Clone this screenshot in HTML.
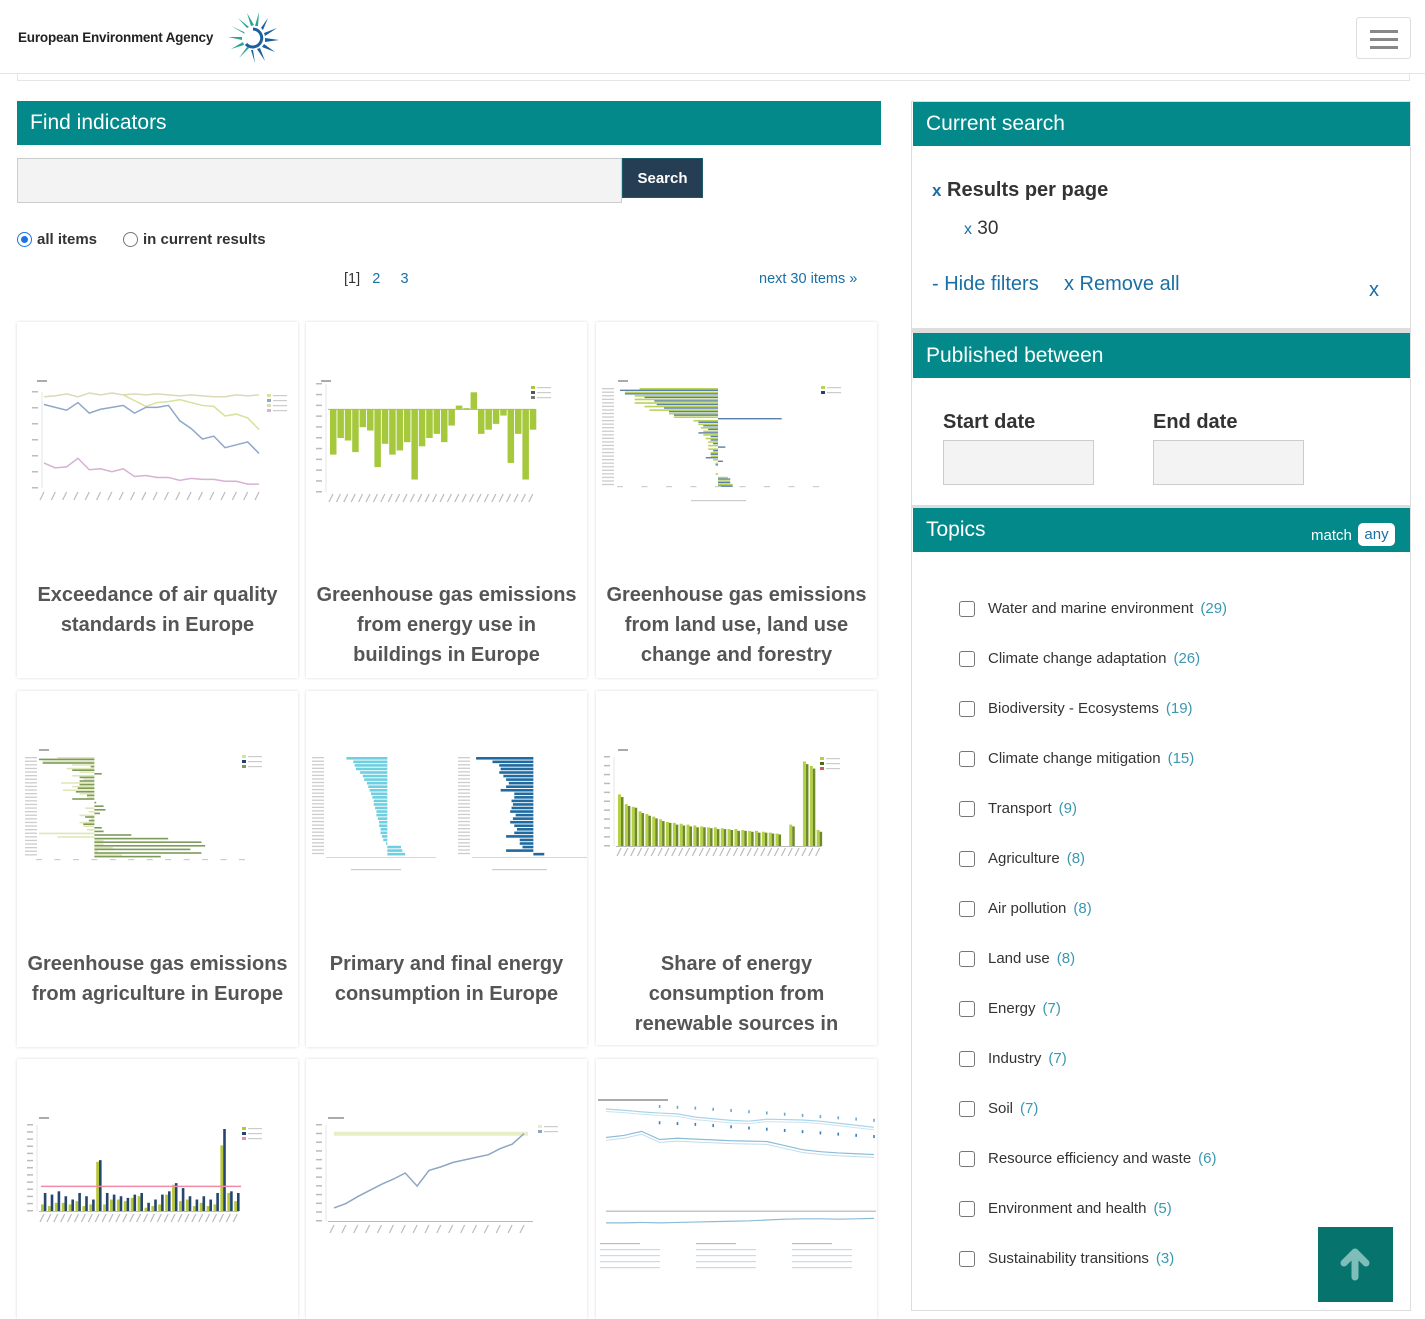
<!DOCTYPE html>
<html><head><meta charset="utf-8">
<style>
*{box-sizing:border-box;margin:0;padding:0}
body{width:1425px;height:1305px;overflow:hidden;background:#fff;font-family:"Liberation Sans",sans-serif;position:relative;color:#333}
.abs{position:absolute}
.teal{background:#03898a;color:#fff;font-size:21px;padding-left:13px;display:flex;align-items:center}
.card{position:absolute;background:#fff;box-shadow:0 0 3px rgba(0,0,0,.15);overflow:hidden}
.card .t{position:absolute;left:0;right:0;top:258px;text-align:center;font-weight:bold;font-size:20px;line-height:30px;color:#555;padding:0 6px}
.card svg{position:absolute;left:0;top:0}
.topic{position:absolute;left:959px;font-size:15px;color:#333;display:flex;align-items:center}
.cb{width:16px;height:16px;border:1.5px solid #777;border-radius:3px;margin-right:13px;background:#fff}
.cnt{color:#3a98b0;margin-left:7px}
a{color:#1a6fa5;text-decoration:none}
</style></head><body>
<div class="abs" style="left:0;top:0;width:1425px;height:74px;border-bottom:1px solid #e6e6e6"></div>
<div class="abs" style="left:17px;top:74px;width:1393px;height:7px;border:1px solid #e6e6e6;border-top:none"></div>
<div class="abs" style="left:18px;top:30px;font-size:13.5px;font-weight:bold;color:#222;letter-spacing:-0.2px">European Environment Agency</div>
<svg class="abs" style="left:224px;top:12px" width="56" height="52" viewBox="0 0 56 52">
<g transform="translate(29,26)">
<g fill="#2ba58f"><path d="M-2,-12 L-6,-25 L1,-13Z"/><path d="M2,-12 L6,-26 L5,-12Z"/><path d="M-6,-10 L-15,-20 L-4,-11Z"/><path d="M-9,-6 L-22,-12 L-8,-4Z"/><path d="M-11,-1 L-25,-1 L-11,2Z"/><path d="M-10,4 L-22,11 L-9,7Z"/><path d="M-6,9 L-14,20 L-4,10Z"/></g>
<g fill="#1a5fa0"><path d="M8,-10 L15,-20 L10,-8Z"/><path d="M11,-5 L24,-10 L12,-2Z"/><path d="M12,0 L26,2 L12,4Z"/><path d="M11,6 L22,14 L9,9Z"/><path d="M7,10 L12,23 L4,11Z"/><path d="M0,12 L2,25 L-2,12Z"/></g>
<path d="M0,-9 A9,9 0 1,1 -7,6" fill="none" stroke="#1a5fa0" stroke-width="3"/>
</g></svg>
<div class="abs" style="left:1356px;top:17px;width:55px;height:42px;border:1px solid #ddd;border-radius:3px">
<div style="position:absolute;left:13px;top:12px;width:28px;height:3px;background:#888"></div>
<div style="position:absolute;left:13px;top:20px;width:28px;height:3px;background:#888"></div>
<div style="position:absolute;left:13px;top:28px;width:28px;height:3px;background:#888"></div></div>

<div class="abs teal" style="left:17px;top:101px;width:864px;height:44px">Find indicators</div>
<div class="abs" style="left:17px;top:158px;width:605px;height:45px;background:#f3f3f3;border:1px solid #ccc"></div>
<div class="abs" style="left:622px;top:158px;width:81px;height:40px;background:#253e53;color:#fff;font-weight:bold;font-size:15px;display:flex;align-items:center;justify-content:center;border:1px solid #1c5c6a">Search</div>
<div class="abs" style="left:17px;top:231px;font-size:15px;font-weight:bold;display:flex;align-items:center"><span style="width:15px;height:15px;border-radius:50%;border:1.5px solid #1a73e8;display:inline-block;margin-right:5px;position:relative"><span style="position:absolute;left:2.5px;top:2.5px;width:7px;height:7px;border-radius:50%;background:#1a73e8"></span></span>all items</div>
<div class="abs" style="left:123px;top:231px;font-size:15px;font-weight:bold;display:flex;align-items:center"><span style="width:15px;height:15px;border-radius:50%;border:1px solid #777;display:inline-block;margin-right:5px"></span>in current results</div>
<div class="abs" style="left:344px;top:271px;font-size:14.5px;color:#333">[1]&nbsp;&nbsp; <a>2</a>&nbsp;&nbsp;&nbsp;&nbsp; <a>3</a></div>
<a class="abs" style="left:759px;top:271px;font-size:14.5px">next 30 items »</a>

<div class="card" style="left:17px;top:322px;width:281px;height:356px"><svg id="c1" width="281" height="250"></svg><div class="t">Exceedance of air quality standards in Europe</div></div>
<div class="card" style="left:306px;top:322px;width:281px;height:356px"><svg id="c2" width="281" height="250"></svg><div class="t">Greenhouse gas emissions from energy use in buildings in Europe</div></div>
<div class="card" style="left:596px;top:322px;width:281px;height:356px"><svg id="c3" width="281" height="250"></svg><div class="t">Greenhouse gas emissions from land use, land use change and forestry</div></div>
<div class="card" style="left:17px;top:691px;width:281px;height:356px"><svg id="c4" width="281" height="250"></svg><div class="t">Greenhouse gas emissions from agriculture in Europe</div></div>
<div class="card" style="left:306px;top:691px;width:281px;height:356px"><svg id="c5" width="281" height="250"></svg><div class="t">Primary and final energy consumption in Europe</div></div>
<div class="card" style="left:596px;top:691px;width:281px;height:354px"><svg id="c6" width="281" height="250"></svg><div class="t">Share of energy consumption from renewable sources in Europe</div></div>
<div class="card" style="left:17px;top:1059px;width:281px;height:260px"><svg id="c7" width="281" height="250"></svg></div>
<div class="card" style="left:306px;top:1059px;width:281px;height:260px"><svg id="c8" width="281" height="250"></svg></div>
<div class="card" style="left:596px;top:1059px;width:281px;height:260px"><svg id="c9" width="281" height="250"></svg></div>

<div class="abs" style="left:911px;top:101px;width:500px;height:1210px;border:1px solid #ddd"></div>
<div class="abs teal" style="left:913px;top:102px;width:497px;height:44px">Current search</div>
<div class="abs" style="left:932px;top:179px;font-size:20px;font-weight:bold;color:#333"><a style="font-size:17px">x</a> Results per page</div>
<div class="abs" style="left:964px;top:218px;font-size:19px"><a style="font-size:16px">x</a> 30</div>
<a class="abs" style="left:932px;top:273px;font-size:20px">- Hide filters</a>
<a class="abs" style="left:1064px;top:273px;font-size:20px">x Remove all</a>
<a class="abs" style="left:1369px;top:279px;font-size:20px">x</a>
<div class="abs" style="left:912px;top:328px;width:498px;height:5px;background:#ddd"></div>
<div class="abs teal" style="left:913px;top:333px;width:497px;height:45px">Published between</div>
<div class="abs" style="left:943px;top:411px;font-size:20px;font-weight:bold">Start date</div>
<div class="abs" style="left:1153px;top:411px;font-size:20px;font-weight:bold">End date</div>
<div class="abs" style="left:943px;top:440px;width:151px;height:45px;background:#f3f3f3;border:1px solid #ccc"></div>
<div class="abs" style="left:1153px;top:440px;width:151px;height:45px;background:#f3f3f3;border:1px solid #ccc"></div>
<div class="abs" style="left:912px;top:505px;width:498px;height:3px;background:#ddd"></div>
<div class="abs teal" style="left:913px;top:508px;width:497px;height:44px">Topics</div>
<div class="abs" style="left:1311px;top:527px;font-size:15px;color:#fff">match</div>
<div class="abs" style="left:1358px;top:523px;width:37px;height:23px;background:#fff;border-radius:5px;color:#1a6fa5;font-size:15px;text-align:center;line-height:23px">any</div>
<div id="topics"></div>
<div class="abs" style="left:1318px;top:1227px;width:75px;height:75px;background:#06736c">
<svg width="75" height="75"><path d="M37,50 V26 M26,36 L37,25 L48,36" stroke="#7fbdbb" stroke-width="7" fill="none" stroke-linecap="round" stroke-linejoin="round"/></svg></div>

<script>
// ---- chart data ----
const c1Years=["2000","2001","2002","2003","2004","2005","2006","2007","2008","2009","2010","2011","2012","2013","2014","2015","2016","2017","2018","2019"];
const c1S1=[95,96,98,95,99,97,99,97,98,97,98,97,96,97,96,95,95,97,96,97];
const c1S2=[null,null,null,null,null,null,null,97,91,85,89,90,92,89,86,85,75,77,73,61];
const c1S3=[87,84,81,89,78,82,84,86,78,84,84,86,70,62,51,54,42,45,48,36];
const c1S4=[26,21,22,31,19,20,17,20,12,13,11,11,8,10,9,9,7,7,4,4];
const c2Vals=[-55,-35,-38,-52,-22,-26,-70,-42,-55,-50,-40,-85,-45,-35,-30,-40,-20,4,1,20,-30,-25,-18,-8,-65,-30,-85,-25];
const c3Green=[-32,-38,-34,-34,-34,-30,-28,-20,-18,-10,-8,-7,-6,-6,-5,-4,-4,-4,-3,-3,-2,-1,0,0,-1,4,5,6];
const c3Blue=[-40,-38,-30,-26,-25,-22,-20,-18,26,-8,-6,-4,-8,-3,-3,-2,3,-2,-3,-5,2,-1,0,0,0,5,5,6];
const c4Light=[-20,-28,-12,-15,-8,-12,-6,-18,-12,-17,-8,-4,0,0,-5,-3,-8,-2,-8,-6,-4,-30,-20,5,5,10,2,15];
const c4Dark=[-30,-28,-2,-12,4,-8,-8,-8,-9,-10,-4,-12,1,5,6,3,-5,-3,-6,4,5,20,40,58,60,52,58,36];
const c5P1=[-30,-25,-24,-23,-20,-18,-17,-15,-14,-13,-12,-11,-10,-10,-9,-8,-8,-7,-6,-6,-5,-5,-4,-3,-1,20,22,26];
const c5P2=[-42,-30,-25,-24,-25,-22,-20,-18,-20,-24,-14,-14,-16,-15,-16,-17,-13,-15,-17,-14,-12,-14,-20,-10,-10,-8,-20,8];
const c6A=[58,47,44,39,36,33,30,27,26,25,24,23,22,21,21,20,19,19,18,17,17,16,15,14,0,24,0,95,90,18];
const c6B=[55,45,43,37,34,31,28,26,24,23,22,21,21,20,19,19,18,17,17,16,15,15,14,13,0,22,0,92,87,16];
const c7Dark=[22,20,24,18,14,22,18,14,62,22,20,18,16,20,22,10,14,20,24,34,28,18,14,18,14,22,100,24,22];
const c7Green=[8,6,10,10,8,12,6,8,60,8,14,14,12,16,18,4,6,8,20,32,12,14,6,10,6,8,80,22,12];
const c7Target=30;
const c8Vals=[15,20,28,35,42,48,55,40,58,62,67,70,73,76,83,88,100];
const c8Target=100;
const c9A=[2500,2470,2430,2400,2380,2300,2260,2220,2200,2250,2240,2230,2200,2150,2100,2050];
const c9B=[1800,1850,1950,1750,1780,1760,1740,1720,1710,1700,1600,1500,1450,1420,1400,1380];
const c9C=[-300,-300,-290,-300,-290,-280,-270,-260,-250,-230,-210,-200,-200,-210,-200,-190];
const c9Cap=[null,null,null,2150,2130,2110,2080,2050,2020,1990,1960,1930,1900,1870,1840,1810];
const topicNames=["Water and marine environment","Climate change adaptation","Biodiversity - Ecosystems","Climate change mitigation","Transport","Agriculture","Air pollution","Land use","Energy","Industry","Soil","Resource efficiency and waste","Environment and health","Sustainability transitions"];
const topicCounts=[29,26,19,15,9,8,8,8,7,7,7,6,5,3];

const NS="http://www.w3.org/2000/svg";
function mk(svg,tag,at){const e=document.createElementNS(NS,tag);for(const k in at)e.setAttribute(k,at[k]);svg.appendChild(e);return e;}
function lin(d0,d1,r0,r1){return v=>r0+(v-d0)/(d1-d0)*(r1-r0);}
function axisY(svg,x,y0,y1,n){const g=mk(svg,'line',{x1:x,x2:x,y1:y0,y2:y1,stroke:'#ccc','stroke-width':0.5});
 for(let i=0;i<=n;i++){mk(svg,'rect',{x:x-10,y:y0+(y1-y0)*i/n-1,width:6,height:1.5,fill:'#bbb'});}}
function xLabels(svg,xs,y){xs.forEach(x=>{mk(svg,'line',{x1:x,y1:y,x2:x-4,y2:y+8,stroke:'#bbb','stroke-width':1.2});});}
function line(svg,vals,x,y,col,w){let d='';vals.forEach((v,i)=>{if(v==null)return;d+=(d?'L':'M')+x(i)+','+y(v);});const p=mk(svg,'path',{d:d,fill:'none',stroke:col,'stroke-width':w||1.5});}
function legend(svg,x,y,cols){cols.forEach((c,i)=>{mk(svg,'rect',{x:x,y:y+i*5,width:4,height:3,fill:c});mk(svg,'rect',{x:x+6,y:y+i*5+1,width:14,height:1.2,fill:'#ccc'});});}

// chart 1
(function(){const s=document.getElementById('c1');const x=lin(0,c1Years.length-1,27,242),y=lin(0,100,166,70);
 mk(s,'rect',{x:20,y:58,width:10,height:2,fill:'#aaa'});axisY(s,25,70,166,6);
 line(s,c1S1,x,y,'#dcd9b8');line(s,c1S2,x,y,'#d6e29a');line(s,c1S3,x,y,'#8fa8c8');line(s,c1S4,x,y,'#d8b0d4');
 xLabels(s,c1Years.map((_,i)=>x(i)),170);legend(s,250,72,['#d6e29a','#8fa8c8','#dcd9b8','#d8b0d4']);})();
// chart 2
(function(){const s=document.getElementById('c2');const n=c2Vals.length;const y=lin(-100,30,170,62);const bw=6.5;const x=i=>24+i*7.4;
 axisY(s,20,62,170,10);mk(s,'rect',{x:22,y:y(0),width:n*7.4,height:0.8,fill:'#999'});
 c2Vals.forEach((v,i)=>{const r=mk(s,'rect',{x:x(i),y:Math.min(y(v),y(0)),width:bw,height:Math.abs(y(v)-y(0)),fill:'#a5c83c'});});
 xLabels(s,c2Vals.map((_,i)=>x(i)+3),172);legend(s,225,64,['#a5c83c','#555','#777']);mk(s,'rect',{x:15,y:58,width:10,height:2,fill:'#aaa'});})();
// chart 3
(function(){const s=document.getElementById('c3');const x=lin(-40,40,24,220);const rowH=3.55;const y=i=>66+i*rowH;
 c3Green.forEach((v,i)=>{const r=mk(s,'rect',{x:Math.min(x(v),x(0)),y:y(i),width:Math.abs(x(v)-x(0)),height:1.6,fill:'#b9d25a'});});
 c3Blue.forEach((v,i)=>{const r=mk(s,'rect',{x:Math.min(x(v),x(0)),y:y(i)+1.6,width:Math.abs(x(v)-x(0)),height:1.4,fill:'#5a7fa8'});});
 for(let i=0;i<28;i++)mk(s,'rect',{x:6,y:y(i),width:12,height:1.3,fill:'#ccc'});
 for(let i=0;i<=8;i++)mk(s,'rect',{x:x(-40+i*10)-3,y:164,width:6,height:1.2,fill:'#ccc'});
 mk(s,'rect',{x:95,y:178,width:55,height:1.2,fill:'#ccc'});legend(s,225,64,['#b9d25a','#23406e']);mk(s,'rect',{x:22,y:58,width:10,height:2,fill:'#aaa'});})();
// chart 4
(function(){const s=document.getElementById('c4');const x=lin(-30,80,22,225);const rowH=3.6;const y=i=>66+i*rowH;
 c4Light.forEach((v,i)=>{const r=mk(s,'rect',{x:Math.min(x(v),x(0)),y:y(i),width:Math.abs(x(v)-x(0)),height:1.6,fill:'#dfe7b8'});});
 c4Dark.forEach((v,i)=>{const r=mk(s,'rect',{x:Math.min(x(v),x(0)),y:y(i)+1.6,width:Math.abs(x(v)-x(0)),height:1.6,fill:'#7d9a5a'});});
 for(let i=0;i<28;i++)mk(s,'rect',{x:8,y:y(i),width:12,height:1.3,fill:'#ccc'});
 for(let i=0;i<=11;i++)mk(s,'rect',{x:x(-30+i*10)-3,y:168,width:6,height:1.2,fill:'#ccc'});
 legend(s,225,64,['#d6e29a','#23406e','#7d9a5a']);mk(s,'rect',{x:22,y:58,width:10,height:2,fill:'#aaa'});})();
// chart 5
(function(){const s=document.getElementById('c5');const x1=lin(-45,10,20,95),x2=lin(-45,10,166,241);const rowH=3.55;const y=i=>66+i*rowH;
 c5P1.forEach((v,i)=>{const r=mk(s,'rect',{x:Math.min(x1(v),x1(0)),y:y(i),width:Math.abs(x1(v)-x1(0))*(v>0?0.5:1),height:2.6,fill:'#6ecfe0'});});
 c5P2.forEach((v,i)=>{const r=mk(s,'rect',{x:Math.min(x2(v),x2(0)),y:y(i),width:Math.abs(x2(v)-x2(0)),height:2.6,fill:'#1f6aa0'});});
 for(let i=0;i<28;i++){mk(s,'rect',{x:6,y:y(i),width:12,height:1.3,fill:'#ccc'});mk(s,'rect',{x:152,y:y(i),width:12,height:1.3,fill:'#ccc'});}
 mk(s,'rect',{x:20,y:166,width:110,height:0.8,fill:'#ccc'});mk(s,'rect',{x:166,y:166,width:115,height:0.8,fill:'#ccc'});
 mk(s,'rect',{x:45,y:178,width:50,height:1.2,fill:'#ccc'});mk(s,'rect',{x:186,y:178,width:55,height:1.2,fill:'#ccc'});})();
// chart 6
(function(){const s=document.getElementById('c6');const n=c6A.length;const y=lin(0,100,155,66);const x=i=>22+i*6.85;
 axisY(s,18,66,155,10);mk(s,'rect',{x:20,y:155,width:n*6.85,height:0.8,fill:'#aaa'});
 c6A.forEach((v,i)=>{const r=mk(s,'rect',{x:x(i),y:y(v),width:3,height:y(0)-y(v),fill:'#b6d045'});});
 c6B.forEach((v,i)=>{const r=mk(s,'rect',{x:x(i)+3,y:y(v),width:2.5,height:y(0)-y(v),fill:'#6d8a2a'});});
 xLabels(s,c6A.map((_,i)=>x(i)+3),157);legend(s,224,66,['#b6d045','#4d6a1a','#d55']);mk(s,'rect',{x:22,y:58,width:10,height:2,fill:'#aaa'});})();
// chart 7
(function(){const s=document.getElementById('c7');const n=c7Dark.length;const y=lin(0,100,152,70);const x=i=>24+i*6.9;
 axisY(s,20,66,152,12);mk(s,'rect',{x:22,y:152,width:n*6.9,height:0.8,fill:'#aaa'});
 c7Green.forEach((v,i)=>{const r=mk(s,'rect',{x:x(i),y:y(v),width:2.8,height:y(0)-y(v),fill:'#b6c83a'});});
 c7Dark.forEach((v,i)=>{const r=mk(s,'rect',{x:x(i)+2.8,y:y(v),width:2.6,height:y(0)-y(v),fill:'#24466e'});});
 const t=mk(s,'line',{x1:24,x2:24+n*6.9,y1:y(c7Target),y2:y(c7Target),stroke:'#f08aa8','stroke-width':1.5});
 xLabels(s,c7Dark.map((_,i)=>x(i)+3),155);legend(s,225,68,['#b6c83a','#24466e','#f08aa8']);mk(s,'rect',{x:22,y:58,width:10,height:2,fill:'#aaa'});})();
// chart 8
(function(){const s=document.getElementById('c8');const n=c8Vals.length;const y=lin(0,110,162,66);const x=lin(0,n-1,28,218);
 axisY(s,20,66,162,11);mk(s,'rect',{x:22,y:162,width:205,height:0.8,fill:'#aaa'});
 const t=mk(s,'line',{x1:28,x2:222,y1:y(c8Target),y2:y(c8Target),stroke:'#e8edc8','stroke-width':4});
 line(s,c8Vals,x,y,'#8ea6c4',1.5);xLabels(s,c8Vals.map((_,i)=>x(i)),166);legend(s,232,66,['#e8edc8','#8ea6c4']);mk(s,'rect',{x:22,y:58,width:16,height:2,fill:'#aaa'});})();
// chart 9
(function(){const s=document.getElementById('c9');const n=c9A.length;const y=lin(-500,2500,172,50);const x=lin(0,n-1,10,278);
 mk(s,'rect',{x:2,y:40,width:70,height:2,fill:'#aaa'});mk(s,'rect',{x:10,y:y(0),width:270,height:1,fill:'#aaa'});
 line(s,c9A,x,y,'#a8d4e8',1.2);line(s,c9A.map(v=>v-60),x,y,'#c9e4f0',1);line(s,c9B,x,y,'#8cbcd8',1.2);line(s,c9B.map(v=>v-70),x,y,'#c0dcec',1);line(s,c9C,x,y,'#8cbcd8',1.2);
 c9Cap.forEach((v,i)=>{if(v==null)return;const r=mk(s,'rect',{x:x(i)-0.8,y:y(v)-2,width:1.6,height:3,fill:'#3a80b8'});});
 c9Cap.forEach((v,i)=>{if(v==null)return;mk(s,'rect',{x:x(i)-0.8,y:y(v+400)-2,width:1.6,height:3,fill:'#6aa8d0'});});
 for(let c=0;c<3;c++)for(let r=0;r<5;r++)mk(s,'rect',{x:4+c*96,y:184+r*6,width:r?60:40,height:1.2,fill:r?'#c8dce8':'#bbb'});})();
// topics
(function(){const root=document.getElementById('topics');topicNames.forEach((nm,i)=>{const d=document.createElement('div');d.className='topic';d.style.top=(600+i*50)+'px';
 
 
 d.innerHTML='<span class="cb"></span><span>'+nm+'</span><span class="cnt">('+topicCounts[i]+')</span>';root.appendChild(d);});})();
</script>
</body></html>
